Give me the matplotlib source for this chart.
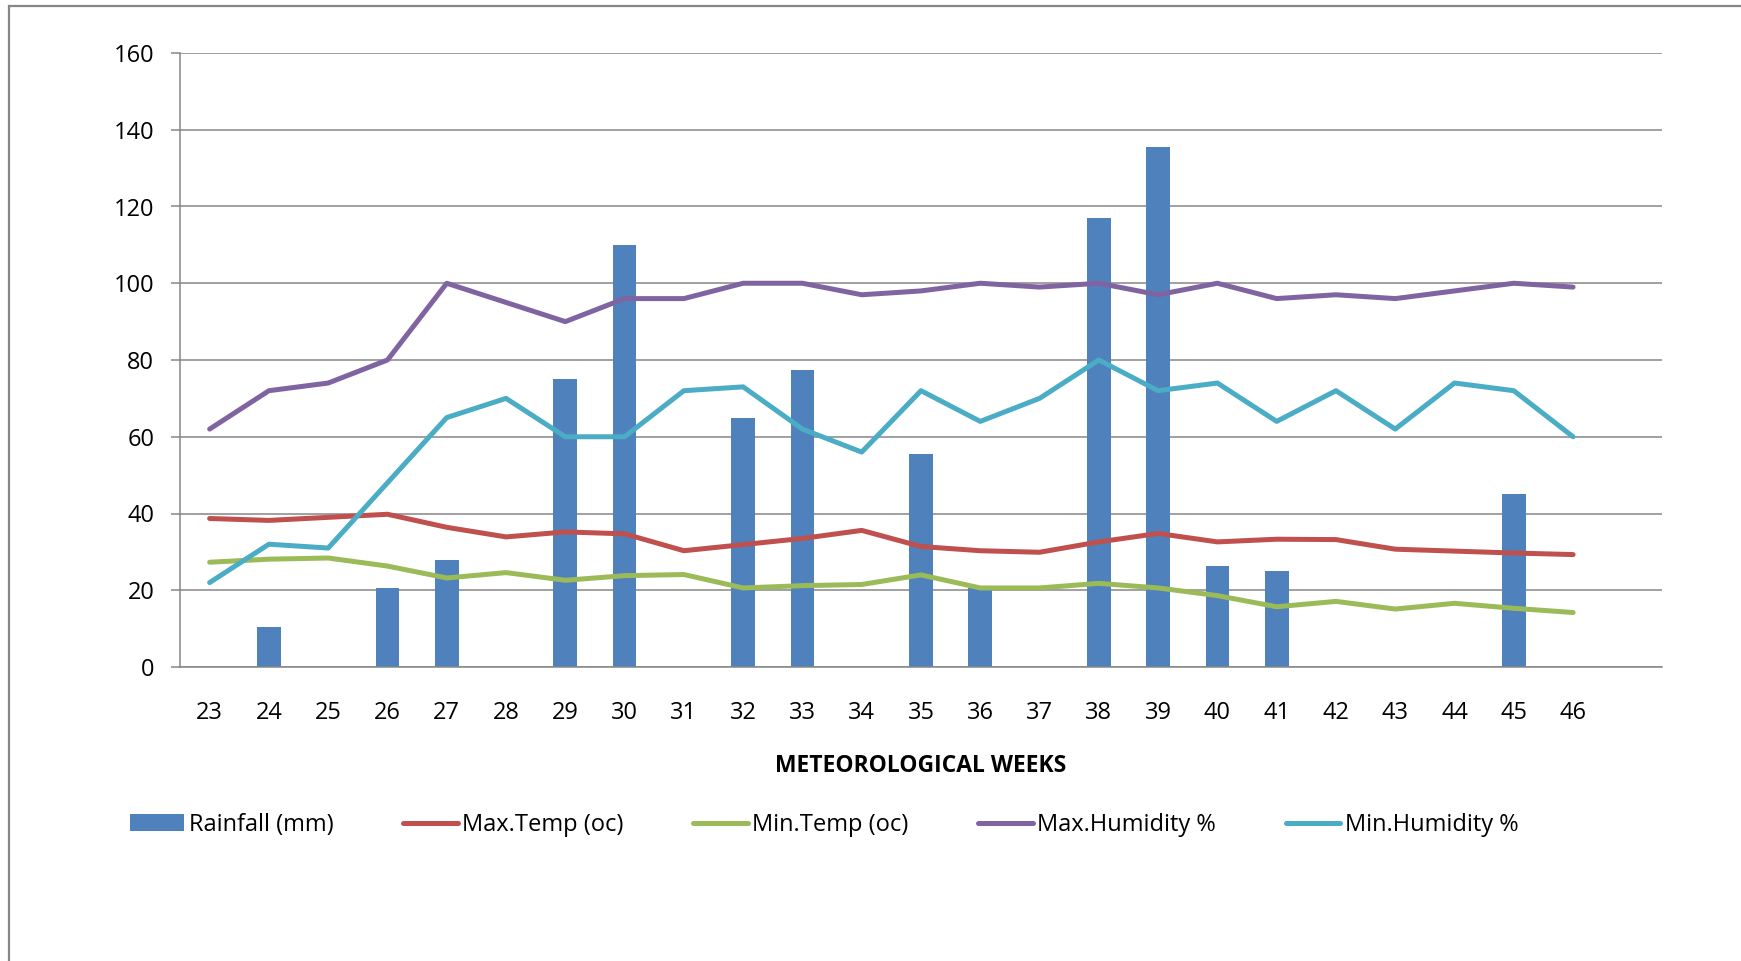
import matplotlib.pyplot as plt
import matplotlib.patches as mpatches
import numpy as np

# meteorological weeks and weekly weather values
weeks = [str(w) for w in range(23, 47)]
rainfall = [0, 10.5, 0, 20.5, 28, 0, 75, 110, 0, 65, 77.5, 0,
            55.5, 20.5, 0, 117, 135.5, 26.3, 25, 0, 0, 0, 45, 0]
max_temp = [38.7, 38.2, 39.0, 39.8, 36.4, 33.9, 35.2, 34.7, 30.3, 31.9, 33.5, 35.6,
            31.4, 30.3, 29.9, 32.6, 34.8, 32.6, 33.3, 33.2, 30.7, 30.2, 29.7, 29.3]
min_temp = [27.3, 28.1, 28.4, 26.3, 23.2, 24.6, 22.6, 23.8, 24.1, 20.6, 21.2, 21.5,
            24.0, 20.6, 20.6, 21.8, 20.6, 18.6, 15.7, 17.1, 15.1, 16.6, 15.3, 14.2]
max_humidity = [62, 72, 74, 80, 100, 95, 90, 96, 96, 100, 100, 97,
                98, 100, 99, 100, 97, 100, 96, 97, 96, 98, 100, 99]
min_humidity = [22, 32, 31, 48, 65, 70, 60, 60, 72, 73, 62, 56,
                72, 64, 70, 80, 72, 74, 64, 72, 62, 74, 72, 60]

plt.rcParams['font.family'] = ['Open Sans', 'DejaVu Sans']

colors = {
    'rain': '#4F81BD',
    'max_temp': '#C0504D',
    'min_temp': '#9BBB59',
    'max_hum': '#8064A2',
    'min_hum': '#4BACC6',
}
grid_color = '#868686'

fig = plt.figure(figsize=(17.41, 9.61), dpi=100)
ax = fig.add_axes([180 / 1741, 1 - 667 / 961, (1662 - 180) / 1741, (667 - 53) / 961])

x = np.arange(len(weeks))
bars = ax.bar(x, rainfall, width=0.4, color=colors['rain'], label='Rainfall (mm)', zorder=2)

line_kw = dict(linewidth=3.6, solid_joinstyle='round', solid_capstyle='round', zorder=3)
ax.plot(x, max_temp, color=colors['max_temp'], label='Max.Temp (oc)', **line_kw)
ax.plot(x, min_temp, color=colors['min_temp'], label='Min.Temp (oc)', **line_kw)
ax.plot(x, max_humidity, color=colors['max_hum'], label='Max.Humidity %', **line_kw)
ax.plot(x, min_humidity, color=colors['min_hum'], label='Min.Humidity %', **line_kw)

ax.set_xlim(-0.5, 24.5)
ax.set_ylim(0, 160)
ax.set_yticks(range(0, 161, 20))
ax.set_xticks(x)
ax.set_xticklabels(weeks)

ax.set_axisbelow(True)
ax.yaxis.grid(True, color=grid_color, linewidth=1.1)
ax.xaxis.grid(False)

for side in ['top', 'right']:
    ax.spines[side].set_visible(False)
for side in ['left', 'bottom']:
    ax.spines[side].set_color(grid_color)
    ax.spines[side].set_linewidth(1.1)

ax.tick_params(axis='y', length=6.5, width=1.1, color=grid_color, pad=12, labelsize=17)
ax.tick_params(axis='x', length=0, pad=24.5, labelsize=17)

ax.set_xlabel('METEOROLOGICAL WEEKS', fontsize=16.5, fontweight='bold', labelpad=20.5)

# legend row under the chart, rainfall first like the original
handles, labels = ax.get_legend_handles_labels()
order = [labels.index('Rainfall (mm)')] + [i for i, l in enumerate(labels) if l != 'Rainfall (mm)']
fig.legend([handles[i] for i in order], [labels[i] for i in order],
           loc='center left', bbox_to_anchor=(130 / 1741, 1 - 825 / 961),
           ncol=5, frameon=False, fontsize=17, handlelength=2.3,
           handletextpad=0.2, columnspacing=2.95, borderpad=0, borderaxespad=0)

# outer chart border (cropped at right and bottom)
fig.patches.append(mpatches.Rectangle((9 / 1741, -0.1), 1.2, 1 - 6 / 961 + 0.1,
                                      transform=fig.transFigure, fill=False,
                                      edgecolor=grid_color, linewidth=1.6))

fig.savefig('out.png', dpi=100)
